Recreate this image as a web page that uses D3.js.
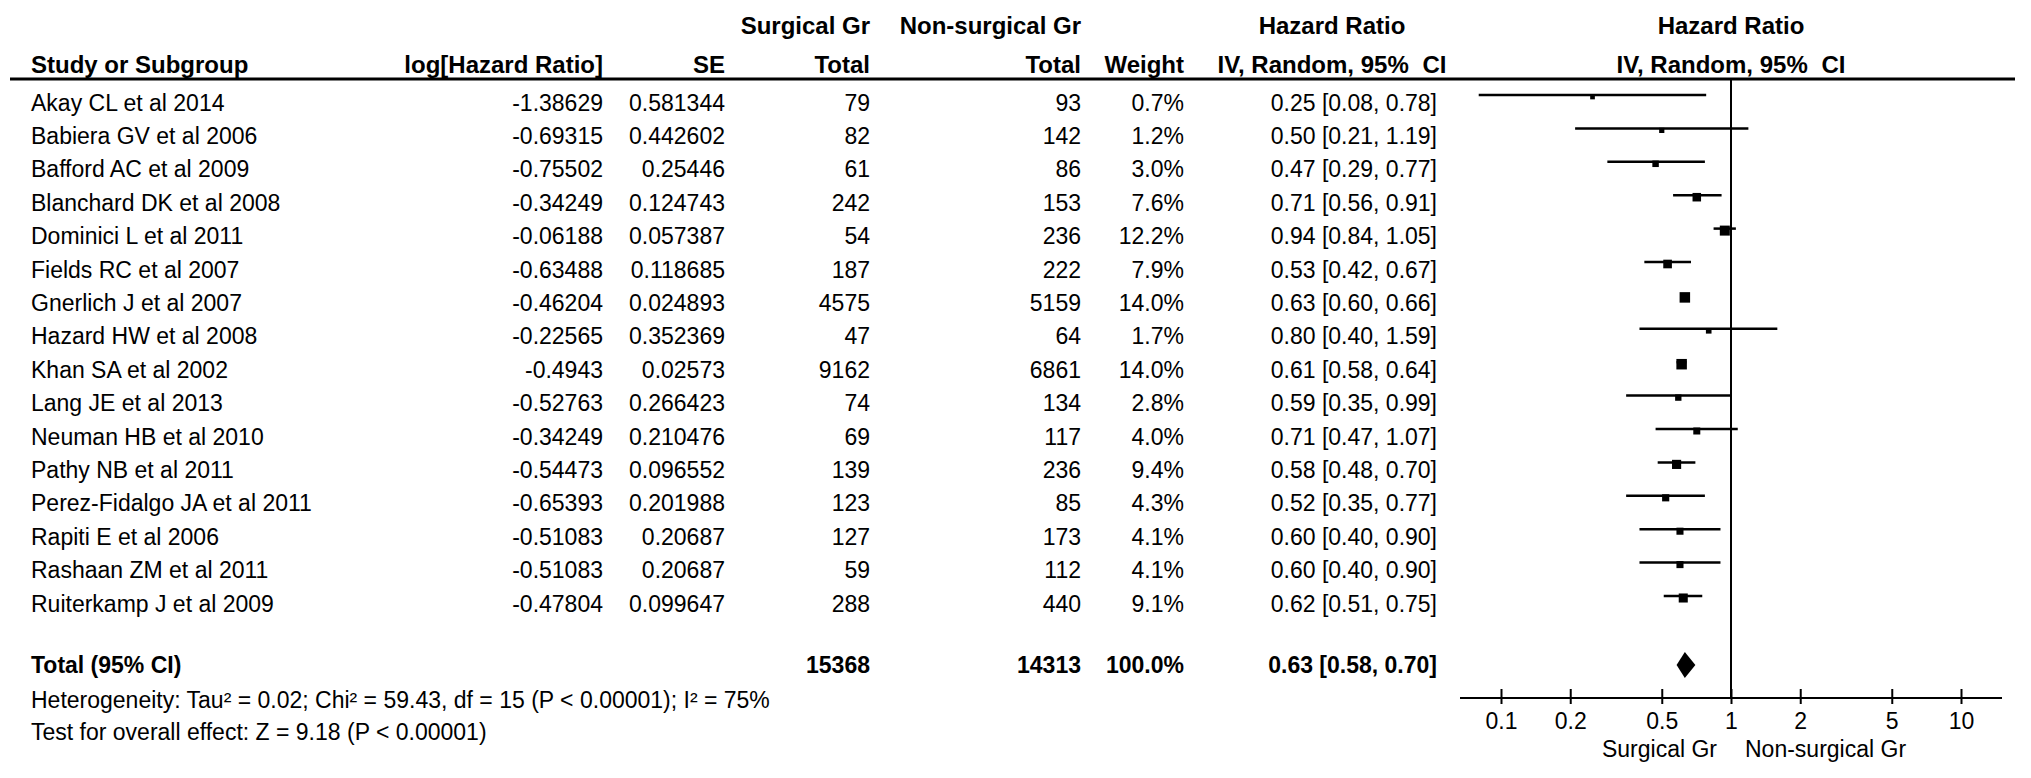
<!DOCTYPE html>
<html>
<head>
<meta charset="utf-8">
<title>Forest plot</title>
<script src="https://d3js.org/d3.v7.min.js"></script>
<style>
	body { margin: 0; background: #fff; }
	text { font-family: "Liberation Sans", Arial, sans-serif; fill: #000; }
	.hd { font-weight: bold; font-size: 24px; }
	.cell { font-size: 23px; }
	.tot { font-weight: bold; font-size: 23px; }
	.foot { font-size: 23px; }
	.axis path { display: none; }
	.axis line { stroke: #000; stroke-width: 2; }
	.axis text { font-size: 23px; font-family: "Liberation Sans", Arial, sans-serif; }
</style>
</head>
<body>
<div id="plot"></div>
<script>
// data
var studies = ["Akay CL et al 2014", "Babiera GV et al 2006", "Bafford AC et al 2009", "Blanchard DK et al 2008",
	"Dominici L et al 2011", "Fields RC et al 2007", "Gnerlich J et al 2007", "Hazard HW et al 2008",
	"Khan SA et al 2002", "Lang JE et al 2013", "Neuman HB et al 2010", "Pathy NB et al 2011",
	"Perez-Fidalgo JA et al 2011", "Rapiti E et al 2006", "Rashaan ZM et al 2011", "Ruiterkamp J et al 2009"];
var logHR = [-1.38629, -0.69315, -0.75502, -0.34249, -0.06188, -0.63488, -0.46204, -0.22565,
	-0.4943, -0.52763, -0.34249, -0.54473, -0.65393, -0.51083, -0.51083, -0.47804];
var se = [0.581344, 0.442602, 0.25446, 0.124743, 0.057387, 0.118685, 0.024893, 0.352369,
	0.02573, 0.266423, 0.210476, 0.096552, 0.201988, 0.20687, 0.20687, 0.099647];
var surgTotal = [79, 82, 61, 242, 54, 187, 4575, 47, 9162, 74, 69, 139, 123, 127, 59, 288];
var nonSurgTotal = [93, 142, 86, 153, 236, 222, 5159, 64, 6861, 134, 117, 236, 85, 173, 112, 440];
var weight = [0.7, 1.2, 3.0, 7.6, 12.2, 7.9, 14.0, 1.7, 14.0, 2.8, 4.0, 9.4, 4.3, 4.1, 4.1, 9.1];
var hr = [0.25, 0.50, 0.47, 0.71, 0.94, 0.53, 0.63, 0.80, 0.61, 0.59, 0.71, 0.58, 0.52, 0.60, 0.60, 0.62];
var lo = [0.08, 0.21, 0.29, 0.56, 0.84, 0.42, 0.60, 0.40, 0.58, 0.35, 0.47, 0.48, 0.35, 0.40, 0.40, 0.51];
var hi = [0.78, 1.19, 0.77, 0.91, 1.05, 0.67, 0.66, 1.59, 0.64, 0.99, 1.07, 0.70, 0.77, 0.90, 0.90, 0.75];

var total = { surg: 15368, nonSurg: 14313, weight: 100.0, hr: 0.63, lo: 0.58, hi: 0.70 };
var heterogeneity = "Heterogeneity: Tau\u00B2 = 0.02; Chi\u00B2 = 59.43, df = 15 (P < 0.00001); I\u00B2 = 75%";
var overall = "Test for overall effect: Z = 9.18 (P < 0.00001)";
var tickVals = [0.1, 0.2, 0.5, 1, 2, 5, 10];
var favours = ["Surgical Gr", "Non-surgical Gr"];

var w = 2031, h = 778;
var svg = d3.select("#plot").append("svg").attr("width", w).attr("height", h);

var f2 = d3.format(".2f"), f1 = d3.format(".1f");
function ciText(a, b, c) { return f2(a) + " [" + f2(b) + ", " + f2(c) + "]"; }

// scales
var x = d3.scaleLog().domain([0.1, 10]).range([1501, 1961]);
var y = d3.scaleLinear().domain([0, 1]).range([95, 128.4]); // row index -> CI line y
var size = d3.scaleSqrt().domain([0, 14]).range([3, 10.5]);

// column anchors
var col = { name: 31, lhr: 603, se: 725, surg: 870, non: 1081, wt: 1184, ci: 1437, ciMid: 1332 };

// headers
var hd = svg.append("g").attr("class", "hd");
function htext(t, xx, yy, anchor) {
	return hd.append("text").attr("x", xx).attr("y", yy).attr("text-anchor", anchor).text(t);
}
function ivText(xx) {
	var t = htext("IV, Random, 95% ", xx, 73, "middle");
	t.append("tspan").attr("dx", 7).text("CI");
}
htext("Surgical Gr", col.surg, 34, "end");
htext("Non-surgical Gr", col.non, 34, "end");
htext("Hazard Ratio", col.ciMid, 34, "middle");
htext("Hazard Ratio", x(1), 34, "middle");
htext("Study or Subgroup", col.name, 73, "start");
htext("log[Hazard Ratio]", col.lhr, 73, "end");
htext("SE", col.se, 73, "end");
htext("Total", col.surg, 73, "end");
htext("Total", col.non, 73, "end");
htext("Weight", col.wt, 73, "end");
ivText(col.ciMid);
ivText(x(1));

svg.append("line").attr("x1", 10).attr("x2", 2015).attr("y1", 79).attr("y2", 79)
	.attr("stroke", "#000").attr("stroke-width", 3);

// table rows
var rows = svg.selectAll("g.row").data(studies).enter().append("g")
	.attr("class", "row cell")
	.attr("transform", function(d, i) { return "translate(0," + (y(i) + 15.5) + ")"; });
rows.append("text").attr("x", col.name).text(function(d) { return d; });
rows.append("text").attr("x", col.lhr).attr("text-anchor", "end").text(function(d, i) { return logHR[i]; });
rows.append("text").attr("x", col.se).attr("text-anchor", "end").text(function(d, i) { return se[i]; });
rows.append("text").attr("x", col.surg).attr("text-anchor", "end").text(function(d, i) { return surgTotal[i]; });
rows.append("text").attr("x", col.non).attr("text-anchor", "end").text(function(d, i) { return nonSurgTotal[i]; });
rows.append("text").attr("x", col.wt).attr("text-anchor", "end").text(function(d, i) { return f1(weight[i]) + "%"; });
rows.append("text").attr("x", col.ci).attr("text-anchor", "end").text(function(d, i) { return ciText(hr[i], lo[i], hi[i]); });

// total row
var totY = 665;
var tg = svg.append("g").attr("class", "tot").attr("transform", "translate(0," + (totY + 8) + ")");
tg.append("text").attr("x", col.name).text("Total (95% CI)");
tg.append("text").attr("x", col.surg).attr("text-anchor", "end").text(total.surg);
tg.append("text").attr("x", col.non).attr("text-anchor", "end").text(total.nonSurg);
tg.append("text").attr("x", col.wt).attr("text-anchor", "end").text(f1(total.weight) + "%");
tg.append("text").attr("x", col.ci).attr("text-anchor", "end").text(ciText(total.hr, total.lo, total.hi));

svg.append("text").attr("class", "foot").attr("x", col.name).attr("y", 708).text(heterogeneity);
svg.append("text").attr("class", "foot").attr("x", col.name).attr("y", 740).text(overall);

// forest plot
var axisY = 698;
svg.append("line").attr("x1", x(1)).attr("x2", x(1)).attr("y1", 79).attr("y2", axisY)
	.attr("stroke", "#000").attr("stroke-width", 2);

svg.selectAll("line.ci").data(studies).enter().append("line")
	.attr("class", "ci")
	.attr("x1", function(d, i) { return x(lo[i]); })
	.attr("x2", function(d, i) { return x(hi[i]); })
	.attr("y1", function(d, i) { return y(i); })
	.attr("y2", function(d, i) { return y(i); })
	.attr("stroke", "#000").attr("stroke-width", 2.5);

svg.selectAll("rect.box").data(studies).enter().append("rect")
	.attr("class", "box")
	.attr("x", function(d, i) { return x(hr[i]) - size(weight[i]) / 2; })
	.attr("y", function(d, i) { return y(i) + 2 - size(weight[i]) / 2; })
	.attr("width", function(d, i) { return size(weight[i]); })
	.attr("height", function(d, i) { return size(weight[i]); })
	.attr("fill", "#000");

// summary diamond
var diamond = d3.line().x(function(d) { return x(d[0]); }).y(function(d) { return d[1]; });
svg.append("path")
	.attr("d", diamond([[total.lo, totY], [total.hr, totY - 13], [total.hi, totY], [total.hr, totY + 13]]) + "Z")
	.attr("fill", "#000");

// axis
svg.append("line").attr("x1", x(0.1) - 41).attr("x2", x(10) + 41).attr("y1", axisY).attr("y2", axisY)
	.attr("stroke", "#000").attr("stroke-width", 2);
var xAxis = d3.axisBottom(x).tickValues(tickVals).tickFormat(d3.format("~g"))
	.tickSizeInner(6).tickSizeOuter(0).tickPadding(9);
var ax = svg.append("g").attr("class", "axis").attr("transform", "translate(0," + axisY + ")").call(xAxis);
ax.selectAll(".tick line").attr("y1", -9).attr("y2", 6);
ax.selectAll(".tick text").attr("fill", "#000");

svg.append("text").attr("class", "cell").attr("x", x(1) - 14).attr("y", 757).attr("text-anchor", "end").text(favours[0]);
svg.append("text").attr("class", "cell").attr("x", x(1) + 14).attr("y", 757).text(favours[1]);
</script>
</body>
</html>
